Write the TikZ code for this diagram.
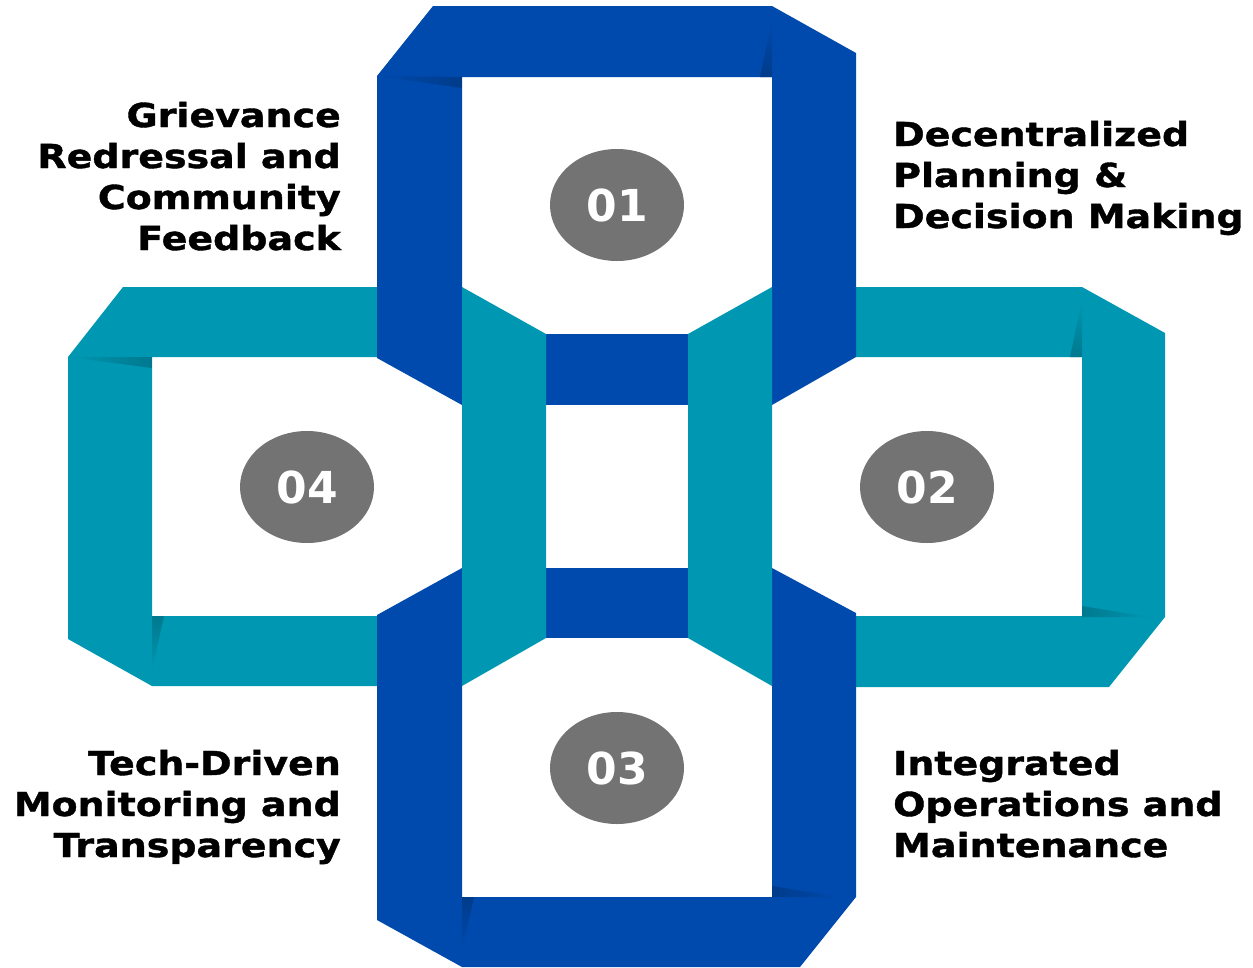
\documentclass[tikz,border=0pt]{standalone}
\usepackage{fontspec}
\usetikzlibrary{shapes.geometric}
\newfontfamily\lblfont[FakeStretch=1.15, FakeBold=1.2]{DejaVu Sans}
\newfontfamily\numfont{DejaVu Sans}
\definecolor{rblue}{HTML}{004AAD}
\definecolor{rteal}{HTML}{0097B2}
\definecolor{rgrey}{HTML}{737373}
\begin{document}
\begin{tikzpicture}[x=1pt,y=-1pt,
  blueband/.style={fill=rblue},
  tealband/.style={fill=rteal},
  numcirc/.style={ellipse, fill=rgrey, minimum width=134pt, minimum height=112pt, inner sep=0pt,
    text=white, font=\numfont\bfseries\fontsize{44}{44}\selectfont},
  lbl/.style={inner sep=0pt, text=black, font=\lblfont\bfseries\fontsize{33}{41}\selectfont}]
\useasboundingbox (0,0) rectangle (1253,967);
% teal loops
\fill[tealband] (68,357) -- (123,287) -- (377,287) -- (377,357) -- (152,357) -- (152,616)
  -- (377,616) -- (377,686) -- (152,686) -- (68,639) -- cycle;
\fill[tealband] (856,287) -- (1082,287) -- (1165,333) -- (1165,617) -- (1109,687) -- (856,687)
  -- (856,616) -- (1082,616) -- (1082,357) -- (856,357) -- cycle;
% blue loops
\fill[blueband] (377,76) -- (433,6) -- (772,6) -- (856,53) -- (856,357) -- (772,405)
  -- (772,77) -- (462,77) -- (462,405) -- (377,358) -- cycle;
\fill[blueband] (377,615) -- (462,568) -- (462,897) -- (772,897) -- (772,568) -- (856,613)
  -- (856,897) -- (800,967) -- (462,967) -- (377,920) -- cycle;
% centre bars
\fill[blueband] (546,334) rectangle (688,405);
\fill[blueband] (546,568) rectangle (688,638);
% teal columns
\fill[tealband] (462,287) -- (546,334) -- (546,638) -- (462,686) -- cycle;
\fill[tealband] (688,334) -- (772,287) -- (772,686) -- (688,638) -- cycle;
% fold shadows
\shade[left color=rblue, right color=rblue!80!black] (377,76) -- (462,77) -- (462,88) -- cycle;
\shade[top color=rblue, bottom color=rblue!80!black] (772,20) -- (772,77) -- (760,77) -- cycle;
\shade[top color=rblue!80!black, bottom color=rblue] (462,897) -- (474,897) -- (462,950) -- cycle;
\shade[left color=rblue!80!black, right color=rblue] (772,897) -- (840,897) -- (772,886) -- cycle;
\shade[left color=rteal, right color=rteal!80!black] (68,357) -- (152,357) -- (152,368) -- cycle;
\shade[top color=rteal!80!black, bottom color=rteal] (152,616) -- (164,616) -- (152,670) -- cycle;
\shade[top color=rteal, bottom color=rteal!80!black] (1082,300) -- (1082,357) -- (1070,357) -- cycle;
\shade[left color=rteal!80!black, right color=rteal] (1082,617) -- (1150,617) -- (1082,606) -- cycle;
% number badges
\node[numcirc] (n1) at (617,205) {01};
\node[numcirc] (n2) at (927,487) {02};
\node[numcirc] (n3) at (617,768) {03};
\node[numcirc] (n4) at (307,487) {04};
% labels (base anchor = baseline of the last line)
\node[lbl, align=right, anchor=base east] (t4) at (341,250) {Grievance\\Redressal and\\Community\\Feedback};
\node[lbl, align=left, anchor=base west] (t1) at (893,228) {Decentralized\\Planning \&\\Decision Making};
\node[lbl, align=right, anchor=base east] (t3) at (341,857) {Tech-Driven\\Monitoring and\\Transparency};
\node[lbl, align=left, anchor=base west] (t2) at (893,857) {Integrated\\Operations and\\Maintenance};
\end{tikzpicture}
\end{document}
